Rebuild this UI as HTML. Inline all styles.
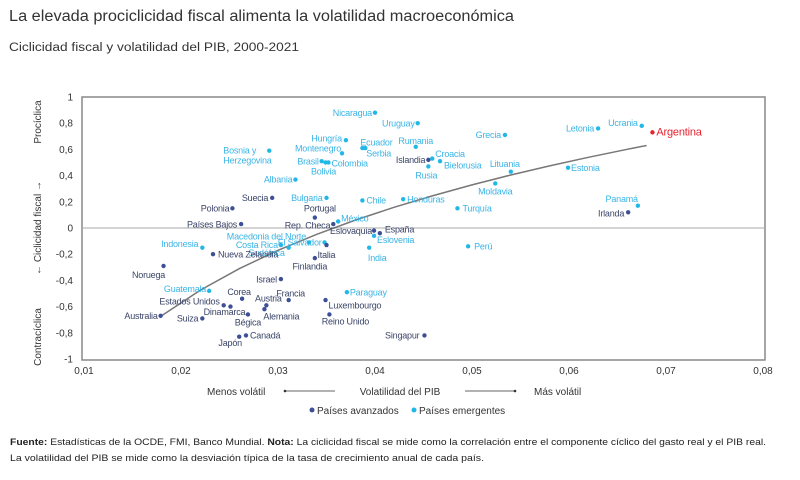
<!DOCTYPE html>
<html><head><meta charset="utf-8"><style>
body{margin:0;background:#fff;font-family:"Liberation Sans",sans-serif}
svg{display:block}
</style></head><body>
<svg id="c" width="800" height="480" viewBox="0 0 800 480" xmlns="http://www.w3.org/2000/svg">
<text x="9" y="21" font-size="15.5" fill="#333" textLength="505" lengthAdjust="spacingAndGlyphs">La elevada prociclicidad fiscal alimenta la volatilidad macroeconómica</text>
<text x="9" y="51" font-size="11.5" fill="#333" textLength="290" lengthAdjust="spacingAndGlyphs">Ciclicidad fiscal y volatilidad del PIB, 2000-2021</text>
<rect x="82" y="97" width="683" height="263" fill="none" stroke="#888" stroke-width="1.5"/>
<g id="axes"></g>
<g id="trend"></g>
<g id="pts"></g>
<g font-size="10" fill="#333">
<text transform="translate(41,122) rotate(-90)" text-anchor="middle">Procíclica</text>
<text transform="translate(41,228) rotate(-90)" text-anchor="middle">←  Ciclicidad fiscal  →</text>
<text transform="translate(41,337) rotate(-90)" text-anchor="middle">Contracíclica</text>
</g>
<g font-size="10" fill="#333">
<text x="207" y="395">Menos volátil</text>
<line x1="285" y1="391" x2="335" y2="391" stroke="#333" stroke-width="0.8"/>
<circle cx="285" cy="391" r="1.3" fill="#333"/>
<text x="400" y="395" text-anchor="middle">Volatilidad del PIB</text>
<line x1="465" y1="391" x2="515" y2="391" stroke="#333" stroke-width="0.8"/>
<circle cx="515" cy="391" r="1.3" fill="#333"/>
<text x="534" y="395">Más volátil</text>
</g>
<g font-size="10" fill="#333">
<circle cx="312" cy="410" r="2.5" fill="#3d5096"/>
<text x="317" y="414">Países avanzados</text>
<circle cx="414" cy="410" r="2.5" fill="#22b8e6"/>
<text x="419" y="414">Países emergentes</text>
</g>
<g font-size="9.3" fill="#222">
<text x="10" y="445" textLength="756" lengthAdjust="spacingAndGlyphs"><tspan font-weight="bold">Fuente:</tspan> Estadísticas de la OCDE, FMI, Banco Mundial. <tspan font-weight="bold">Nota:</tspan> La ciclicidad fiscal se mide como la correlación entre el componente cíclico del gasto real y el PIB real.</text>
<text x="10" y="461" textLength="474" lengthAdjust="spacingAndGlyphs">La volatilidad del PIB se mide como la desviación típica de la tasa de crecimiento anual de cada país.</text>
</g>
</svg>
<script>
const xTicks=[0.01,0.02,0.03,0.04,0.05,0.06,0.07,0.08];
const yTicks=[1,0.8,0.6,0.4,0.2,0,-0.2,-0.4,-0.6,-0.8,-1];
const names=["Nicaragua","Uruguay","Hungría","Ecuador","Serbia","Montenegro","Brasil","Colombia","Bolivia","Bosnia y Herzegovina","Albania","Suecia","Bulgaria","Chile","Honduras","Polonia","Portugal","Países Bajos","Rep. Checa","México","Eslovaquia","España","Eslovenia","India","El Salvador","Italia","Finlandia","Macedonia del Norte","Costa Rica","Sudáfrica","Indonesia","Nueva Zelandia","Noruega","Israel","Guatemala","Corea","Francia","Paraguay","Luxembourgo","Estados Unidos","Dinamarca","Austria","Alemania","Bégica","Australia","Suiza","Reino Unido","Canadá","Japón","Singapur","Perú","Islandia","Rusia","Croacia","Bielorusia","Rumania","Grecia","Letonia","Ucrania","Argentina","Lituania","Moldavia","Estonia","Turquía","Panamá","Irlanda"];
const volat=[0.0400,0.0444,0.0370,0.0387,0.0390,0.0366,0.0345,0.0352,0.0349,0.0291,0.0318,0.0294,0.0350,0.0387,0.0429,0.0253,0.0338,0.0262,0.0357,0.0362,0.0399,0.0405,0.0399,0.0394,0.0348,0.0350,0.0338,0.0332,0.0303,0.0311,0.0222,0.0233,0.0182,0.0303,0.0229,0.0263,0.0311,0.0371,0.0349,0.0244,0.0251,0.0288,0.0286,0.0269,0.0179,0.0222,0.0353,0.0267,0.0260,0.0451,0.0496,0.0455,0.0455,0.0459,0.0467,0.0442,0.0534,0.0630,0.0675,0.0686,0.0540,0.0524,0.0599,0.0485,0.0671,0.0661];
const cicl=[0.88,0.80,0.67,0.61,0.61,0.57,0.51,0.50,0.50,0.59,0.37,0.23,0.23,0.21,0.22,0.15,0.08,0.03,0.03,0.05,-0.02,-0.04,-0.06,-0.15,-0.11,-0.13,-0.23,-0.11,-0.13,-0.15,-0.15,-0.20,-0.29,-0.39,-0.48,-0.54,-0.55,-0.49,-0.55,-0.59,-0.60,-0.59,-0.62,-0.66,-0.67,-0.69,-0.66,-0.82,-0.83,-0.82,-0.14,0.52,0.47,0.53,0.51,0.62,0.71,0.76,0.78,0.73,0.43,0.34,0.46,0.15,0.17,0.12];
const group=["e","e","e","e","e","e","e","e","e","e","e","a","e","e","e","a","a","a","a","e","a","a","e","e","e","a","a","e","e","e","e","a","a","a","e","a","a","e","a","a","a","a","a","a","a","a","a","a","a","a","e","a","e","e","e","e","e","e","e","x","e","e","e","e","e","a"];
const trendX=[0.018,0.022,0.026,0.030,0.034,0.038,0.042,0.046,0.050,0.054,0.058,0.062,0.066,0.068];
const trendA=-0.67, trendB=0.978;
// label placement (style): [anchor, dx, dy]
const lab={"Nicaragua":["end",-3,0],"Uruguay":["end",-3,0],"Hungría":["end",-4,-2],"Ecuador":["start",-2,-6],"Serbia":["start",1,5],"Montenegro":["end",-1,-5],"Brasil":["end",-3,0],"Colombia":["start",3,1],"Bolivia":["middle",-2,9],"Albania":["end",-3,0],"Suecia":["end",-4,0],"Bulgaria":["end",-4,0],"Chile":["start",4,0],"Honduras":["start",4,0],"Polonia":["end",-3,0],"Portugal":["middle",5,-9],"Países Bajos":["end",-4,0],"Rep. Checa":["end",-3,1],"México":["start",3,-3],"Eslovaquia":["end",-2,0],"España":["start",5,-4],"Eslovenia":["start",3,4],"India":["middle",8,10],"El Salvador":["end",-3,0],"Italia":["start",-9,10],"Finlandia":["middle",-5,8],"Macedonia del Norte":["end",-3,-6],"Costa Rica":["end",-3,0],"Sudáfrica":["end",-4,5],"Indonesia":["end",-4,-4],"Nueva Zelandia":["start",5,0],"Noruega":["middle",-15,9],"Israel":["end",-4,0],"Guatemala":["end",-3,-2],"Corea":["middle",-3,-7],"Francia":["middle",2,-7],"Paraguay":["start",3,0],"Luxembourgo":["start",3,5],"Estados Unidos":["end",-4,-4],"Dinamarca":["middle",-6,5],"Austria":["middle",2,-7],"Alemania":["start",-1,7],"Bégica":["middle",0,8],"Australia":["end",-3,0],"Suiza":["end",-4,0],"Reino Unido":["middle",16,7],"Canadá":["start",4,0],"Japón":["middle",-9,6],"Singapur":["end",-5,0],"Perú":["start",6,0],"Islandia":["end",-3,0],"Rusia":["middle",-2,9],"Croacia":["start",3,-5],"Bielorusia":["start",4,4],"Rumania":["middle",0,-6],"Grecia":["end",-4,0],"Letonia":["end",-4,0],"Ucrania":["end",-4,-3],"Argentina":["start",4,0],"Lituania":["middle",-6,-8],"Moldavia":["middle",0,8],"Estonia":["start",3,0],"Turquía":["start",5,0],"Panamá":["end",0,-7],"Irlanda":["end",-4,1]};
const X0=84,X1=763,Y0=359,Y1=97;
const sx=v=>X0+(v-0.01)/(0.08-0.01)*(X1-X0);
const sy=v=>Y0-(v+1)/2*(Y0-Y1);
const NS="http://www.w3.org/2000/svg";
function mk(t,a,p){const e=document.createElementNS(NS,t);for(const k in a)e.setAttribute(k,a[k]);p.appendChild(e);return e;}
const axes=document.getElementById('axes');
xTicks.forEach(v=>{const t=mk('text',{x:sx(v),y:374,'text-anchor':'middle','font-size':10,fill:'#333'},axes);


t.textContent=v.toFixed(2).replace('.',',');});
yTicks.forEach(v=>{const t=mk('text',{x:73,y:sy(v)+3.5,'text-anchor':'end','font-size':10,fill:'#333'},axes);


t.textContent=(v===0?'0':String(v).replace('.',','));});
const zl=mk('line',{x1:82,x2:765,y1:sy(0),y2:sy(0),stroke:'#aaa','stroke-width':1},axes);


const d=trendX.map((x,i)=>(i?'L':'M')+sx(x).toFixed(1)+','+sy(trendA+trendB*Math.log(x/0.018)).toFixed(1)).join(' ');
const tl=mk('path',{d:d,fill:'none',stroke:'#777','stroke-width':1.5},document.getElementById('trend'));


const col={a:'#3d5096',e:'#22b8e6',x:'#e8232e'};
const tcol={a:'#3a4468',e:'#3ab4e6',x:'#e8232e'};
const pg=document.getElementById('pts');
names.forEach((n,i)=>{
 const cx=sx(volat[i]),cy=sy(cicl[i]);
 const c=mk('circle',{cx:cx,cy:cy,r:2.2,fill:col[group[i]]},pg);
 
 
 const fs=group[i]==='x'?11:9;
 if(n==="Bosnia y Herzegovina"){
  const t=mk('text',{x:cx-46,y:cy+3,'font-size':fs,fill:tcol.e,'letter-spacing':'-0.2'},pg);
  
  
  t.textContent='Bosnia y';
  const t2=mk('text',{x:cx-46,y:cy+13,'font-size':fs,fill:tcol.e,'letter-spacing':'-0.2'},pg);
  
  
  t2.textContent='Herzegovina';
  return;}
 const L=lab[n]||["start",4,0];
 const t=mk('text',{x:cx+L[1],y:cy+L[2]+3.2,'text-anchor':L[0],'font-size':fs,fill:tcol[group[i]],'letter-spacing':'-0.2'},pg);
 
 
 t.textContent=n;
});
</script>
</body></html>
